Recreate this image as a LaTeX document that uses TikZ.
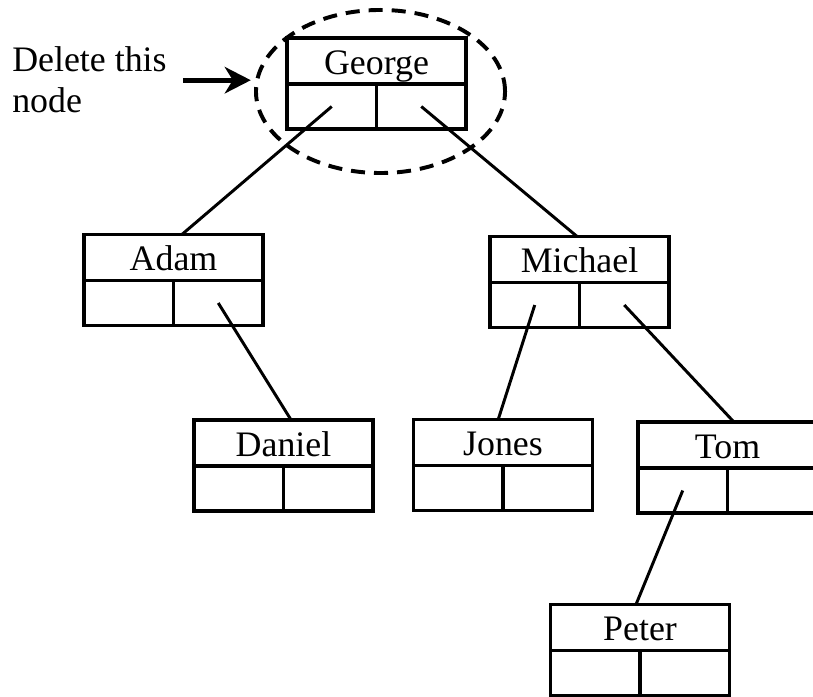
\documentclass[tikz,border=0pt]{standalone}
\usepackage{fontspec}
\setmainfont{Liberation Serif}
\usetikzlibrary{shapes.geometric, arrows.meta, positioning}

\begin{document}
\begin{tikzpicture}[
  x=0.025cm, y=0.025cm,
  head/.style={
    rectangle, draw, line width=2.2pt, outer sep=0pt,
    minimum width=4.475cm, minimum height=1.15cm,
    text height=19pt, text depth=0pt,
    font=\fontsize{25.5}{29}\selectfont
  },
  slot/.style={
    rectangle, draw, line width=2.2pt, outer sep=0pt,
    minimum width=2.2375cm, minimum height=1.125cm
  },
  link/.style={line width=2.1pt},
  ring/.style={
    ellipse, draw, line width=2.8pt, inner sep=0pt,
    dash pattern=on 10pt off 6.4pt,
    minimum width=6.225cm, minimum height=4.075cm
  },
  pointer/.style={
    -{Stealth[length=0.65cm, width=0.66cm, inset=0.2cm]}, line width=3.6pt
  }
]
  \useasboundingbox (0,0) rectangle (813,696);
  \clip (0,0) rectangle (813,696);

  % tree records: name / x / y / key
  \foreach \n/\x/\y/\t in {
      george/376.5/635/George, adam/173.5/438.5/Adam,
      michael/579.5/436.5/Michael, daniel/283.5/253/Daniel,
      jones/503/253.5/Jones, tom/727.5/251/Tom, peter/640/68.5/Peter} {
    \node[head] (\n) at (\x,\y) {\t};
    \node[slot, below right=0pt of \n.south west] (\n-l) {};
    \node[slot, below left=0pt of \n.south east] (\n-r) {};
  }

  \draw[link] (george-l.center) -- ([xshift=0.21cm]adam.north);
  \draw[link] (george-r.center) -- ([xshift=-0.06cm]michael.north);
  \draw[link] (adam-r.center) -- ([xshift=0.19cm]daniel.north);
  \draw[link] (michael-l.center) -- ([xshift=-0.12cm]jones.north);
  \draw[link] (michael-r.center) -- ([xshift=0.16cm]tom.north);
  \draw[link] (tom-l.center) -- ([xshift=-0.1cm]peter.north);

  % node to be removed
  \node[ring] (mark) at (380.5,604.5) {};
  \node[anchor=base west, inner sep=0pt, align=left,
        font=\fontsize{25.5}{29.2}\selectfont] (note) at (12,583) {Delete this\\node};
  \draw[pointer, shorten <=0.4cm, shorten >=0.08cm] (note.east) -- (note.east -| mark.west);
\end{tikzpicture}
\end{document}
